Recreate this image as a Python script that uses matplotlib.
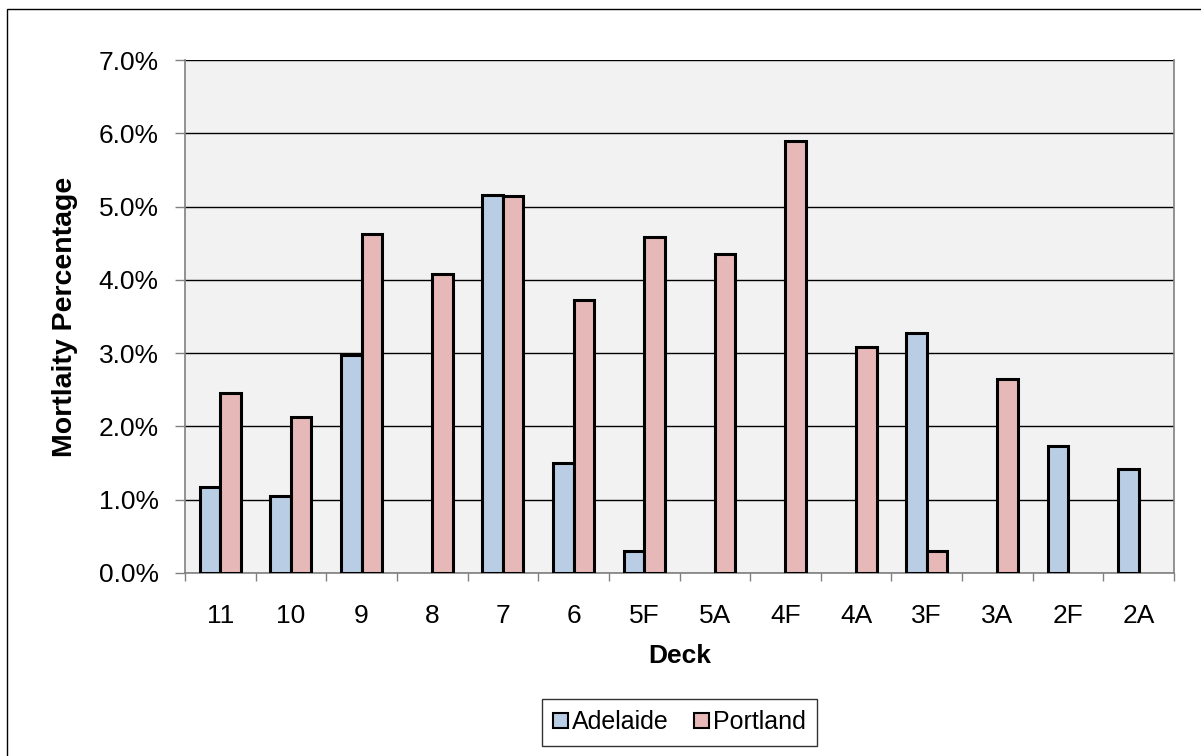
import matplotlib
matplotlib.use("Agg")
import matplotlib.pyplot as plt
import numpy as np
from matplotlib.patches import Rectangle
from matplotlib.ticker import FuncFormatter, MultipleLocator, FixedLocator

plt.rcParams['font.family'] = ['Liberation Sans', 'DejaVu Sans']

decks = ["11", "10", "9", "8", "7", "6", "5F", "5A", "4F", "4A", "3F", "3A", "2F", "2A"]
adelaide = [1.18, 1.05, 2.97, 0.0, 5.16, 1.50, 0.30, 0.0, 0.0, 0.0, 3.27, 0.0, 1.73, 1.42]
portland = [2.45, 2.13, 4.62, 4.08, 5.14, 3.73, 4.59, 4.35, 5.90, 3.09, 0.30, 2.65, 0.0, 0.0]

W, H = 1201, 756
fig = plt.figure(figsize=(W / 100, H / 100), dpi=100)
fig.patch.set_facecolor("white")

# outer chart frame
fig.add_artist(Rectangle((7 / W, -0.1), 1.2, 1.1 - 9 / H, transform=fig.transFigure,
                         fill=False, edgecolor="#000000", linewidth=1.0))

left, right, top, bottom = 185, 1174, 60, 573
ax = fig.add_axes([left / W, 1 - bottom / H, (right - left) / W, (bottom - top) / H])
ax.set_facecolor("#F2F2F2")

x = np.arange(len(decks))
bw = 0.29
bars_a = ax.bar(x - bw / 2, adelaide, bw, color="#B9CDE5", edgecolor="black", linewidth=2.2,
                label="Adelaide", zorder=3)
bars_p = ax.bar(x + bw / 2, portland, bw, color="#E6B9B8", edgecolor="black", linewidth=2.2,
                label="Portland", zorder=3)
# empty decks get no outline on the baseline
for bars in (bars_a, bars_p):
    for b in bars:
        if b.get_height() == 0:
            b.set_visible(False)

ax.set_xlim(-0.5, len(decks) - 0.5)
ax.set_ylim(0, 7)
ax.yaxis.set_major_locator(MultipleLocator(1))
ax.yaxis.set_major_formatter(FuncFormatter(lambda v, p: f"{v:.1f}%"))
ax.grid(axis="y", color="black", linewidth=1.0, zorder=1)
ax.set_axisbelow(True)

ax.set_xticks(x)
ax.set_xticklabels(decks)
ax.xaxis.set_minor_locator(FixedLocator(np.arange(-0.5, len(decks), 1)))
ax.tick_params(axis="x", which="major", length=0, pad=22, labelsize=19)
ax.tick_params(axis="x", which="minor", length=6, width=1, color="#808080", direction="out")
ax.tick_params(axis="y", length=7, width=1, color="#808080", direction="out", pad=12, labelsize=19)

for s in ["left", "bottom", "right"]:
    ax.spines[s].set_color("#808080")
    ax.spines[s].set_linewidth(1.2)
ax.spines["top"].set_visible(False)

ax.set_xlabel("Deck", fontsize=19, fontweight="bold", labelpad=12)
ax.set_ylabel("Mortlaity Percentage", fontsize=20.5, fontweight="bold", labelpad=15)

leg = ax.legend(loc="center", bbox_to_anchor=(0.5, -0.291), ncol=2, fontsize=18,
                frameon=True, fancybox=False, edgecolor="black", handlelength=0.6,
                handleheight=0.6, handletextpad=0.15, columnspacing=1.0, borderpad=0.45)
leg.get_frame().set_linewidth(1.0)
for h in leg.legend_handles:
    h.set_linewidth(1.5)

fig.savefig("out.png", dpi=100, facecolor="white")
